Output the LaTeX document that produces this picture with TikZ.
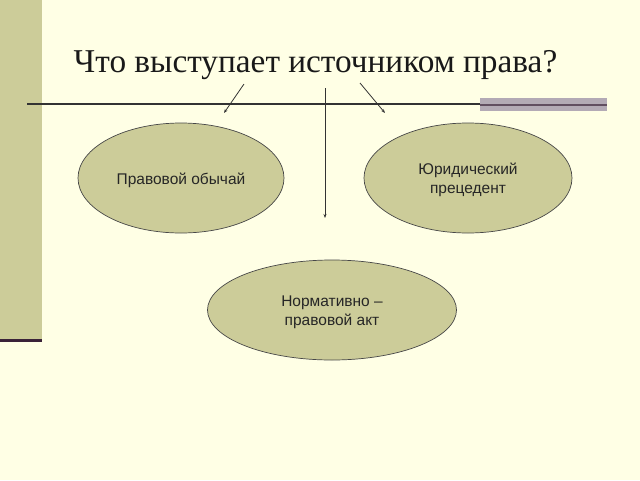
\documentclass[tikz,border=0pt]{standalone}
\usepackage{fontspec}
\setmainfont{Liberation Serif}
\newfontfamily\arialfont{Liberation Sans}
\usetikzlibrary{arrows.meta,shapes.geometric}
\definecolor{bgc}{HTML}{FFFFE5}
\definecolor{khaki}{HTML}{CCCC99}
\definecolor{plum}{HTML}{3A2238}
\definecolor{lgray}{HTML}{B3AAB5}
\definecolor{linec}{HTML}{333333}
\tikzset{
  oval/.style={ellipse, draw=linec!90, line width=0.7pt, fill=khaki, inner sep=0pt},
  ovaltext/.style={font=\arialfont\fontsize{15.5}{19}\selectfont, text=black!85, align=center, inner sep=0pt},
  conn/.style={draw=linec, line width=0.8pt, -{Stealth[length=4pt,width=3pt]}}
}
\begin{document}
\begin{tikzpicture}[x=1pt,y=-1pt]
\useasboundingbox (0,0) rectangle (640,480);
\fill[bgc] (0,0) rectangle (640,480);
% left bar
\fill[khaki] (0,0) rectangle (42,340);
\fill[plum] (0,339) rectangle (42,342);
% title
\node[font=\fontsize{33.3}{38}\selectfont, text=black!90, anchor=base, inner sep=0pt] (title) at (315.5,72) {Что выступает источником права?};
% rule
\draw[linec, line width=1.3pt] (27,104) -- (480,104);
\fill[lgray] (480,98) rectangle (607,111);
\draw[plum!80, line width=2pt] (480,104.5) -- (607,104.5);
% ellipses
\node[oval, minimum width=206pt, minimum height=110pt] (custom) at (181,178) {};
\node[ovaltext] (customt) at (181,180.5) {Правовой обычай};
\node[oval, minimum width=208pt, minimum height=110pt] (prec) at (468,178) {};
\node[ovaltext] (prect) at (468,180) {Юридический\\прецедент};
\node[oval, minimum width=249pt, minimum height=100pt] (act) at (332,310) {};
\node[ovaltext] (actt) at (332,312) {Нормативно –\\правовой акт};
% arrows
\coordinate (s1) at (244,84);
\coordinate (e1) at (224,113);
\coordinate (s2) at (325,88);
\coordinate (e2) at (325,218);
\coordinate (s3) at (360,83);
\coordinate (e3) at (385,113);
\draw[conn] (s1) -- (e1);
\draw[conn] (s2) -- (e2);
\draw[conn] (s3) -- (e3);
\end{tikzpicture}
\end{document}
